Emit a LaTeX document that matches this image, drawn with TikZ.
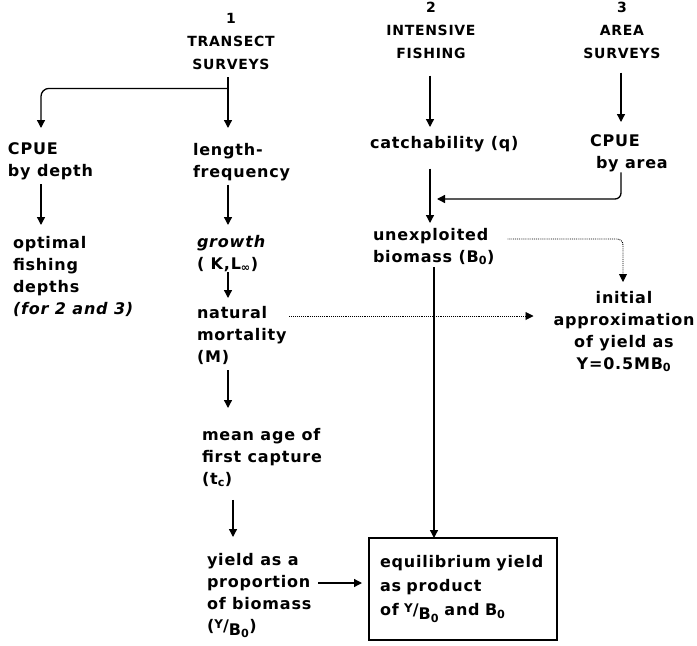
\documentclass[tikz,border=0pt]{standalone}
\usepackage{fontspec}
\usetikzlibrary{arrows.meta,calc}
\newfontfamily\chartfont[LetterSpace=5]{DejaVu Sans}
\newcommand\ybzero{\raisebox{3pt}{\fontsize{12}{12}\selectfont Y}/\raisebox{-4pt}{B\textsubscript{0}}}

\begin{document}
\begin{tikzpicture}[x=1pt,y=-1pt,
  every node/.style={font=\chartfont\bfseries\fontsize{16}{22}\selectfont, inner sep=0pt, outer sep=0pt},
  txt/.style={anchor=north west, align=left},
  head/.style={anchor=north, align=center, font=\chartfont\bfseries\fontsize{14}{23}\selectfont},
  arr/.style={-{Triangle[length=8pt,width=8pt]}, line width=1.3pt},
  dotarr/.style={-{Triangle[length=8pt,width=8pt]}, line width=0.9pt, densely dotted, rounded corners=6pt}]
\useasboundingbox (0,0) rectangle (697,646);
\coordinate (cA) at (41,0);
\coordinate (cB) at (228,0);
\coordinate (cBt) at (233,0);
\coordinate (cC) at (430,0);
\coordinate (cCb) at (434,0);
\coordinate (cD) at (621,0);
\coordinate (cE) at (623,0);
\coordinate (join) at (437,199);
\node[head] (h1) at (231,13) {1\\TRANSECT\\SURVEYS};
\node[head] (h2) at (431,2) {2\\INTENSIVE\\FISHING};
\node[head] (h3) at (622,2) {3\\AREA\\SURVEYS};
\node[txt] (cpued) at (8,143) {CPUE\\by depth};
\node[txt] (lf) at (193,143) {length-\\frequency};
\node[txt] (catch) at (370,136) {catchability (q)};
\node[txt] (cpuea) at (590,135) {CPUE\\\hspace*{6pt}by area};
\node[txt] (opt) at (13,236) {optimal\\fishing\\depths\\{\itshape (for 2 and 3)}};
\node[txt] (grow) at (197,235) {{\itshape growth}\\( K,L\textsubscript{∞})};
\node[txt] (unex) at (373,228) {unexploited\\biomass (B\textsubscript{0})};
\node[txt] (nat) at (197,306) {natural\\mortality\\(M)};
\node[anchor=north, align=center] (init) at (624,291) {initial\\approximation\\of yield as\\Y=0.5MB\textsubscript{0}};
\node[txt] (mean) at (202,428) {mean age of\\first capture\\(t\textsubscript{c})};
\node[txt] (yas) at (207,553) {yield as a\\proportion\\of biomass\\(\ybzero)};
\node[draw, line width=1.3pt, anchor=north west, text width=166pt, inner xsep=11pt, minimum height=102pt, align=left, font=\chartfont\bfseries\fontsize{16}{24}\selectfont] (eq) at (369,538) {equilibrium yield\\as product\\of \ybzero\ and B\textsubscript{0}};
\draw[arr] ([yshift=-8pt]h1.south -| cB) -- ([yshift=15pt]lf.north -| cB);
\draw[arr, rounded corners=8pt] ([yshift=-19pt]h1.south -| cB) -| ([yshift=15pt]cpued.north -| cA);
\draw[arr] ([yshift=-17pt]h2.south -| cC) -- ([yshift=9pt]catch.north -| cC);
\draw[arr] ([yshift=-14pt]h3.south -| cD) -- ([yshift=13pt]cpuea.north -| cD);
\draw[arr] ([yshift=-4pt]cpued.south -| cA) -- ([yshift=11pt]opt.north -| cA);
\draw[arr] ([yshift=-4pt]lf.south -| cB) -- ([yshift=10pt]grow.north -| cB);
\draw[arr] (grow.south -| cB) -- ([yshift=8pt]nat.north -| cB);
\draw[arr] ([yshift=-6pt]nat.south -| cB) -- ([yshift=20pt]mean.north -| cB);
\draw[arr] ([yshift=-13pt]mean.south -| cBt) -- ([yshift=16pt]yas.north -| cBt);
\draw[arr] ($(eq.west -| yas.east)+(7,-6)$) -- ($(eq.west)+(-7,-6)$);
\draw[arr] ([yshift=-17pt]catch.south -| cC) -- ([yshift=5pt]unex.north -| cC);
\draw[arr, rounded corners=6pt] (cpuea.south -| cD) |- (join);
\draw[arr] ([yshift=-2pt]unex.south -| cCb) -- (eq.north -| cCb);
\draw[dotarr] ($(unex.north east)+(13,11)$) -| ([yshift=9pt]init.north -| cE);
\draw[dotarr] ($(nat.north east)+(3,10)$) -- ($(init.north west)+(-20,25)$);
\end{tikzpicture}
\end{document}
